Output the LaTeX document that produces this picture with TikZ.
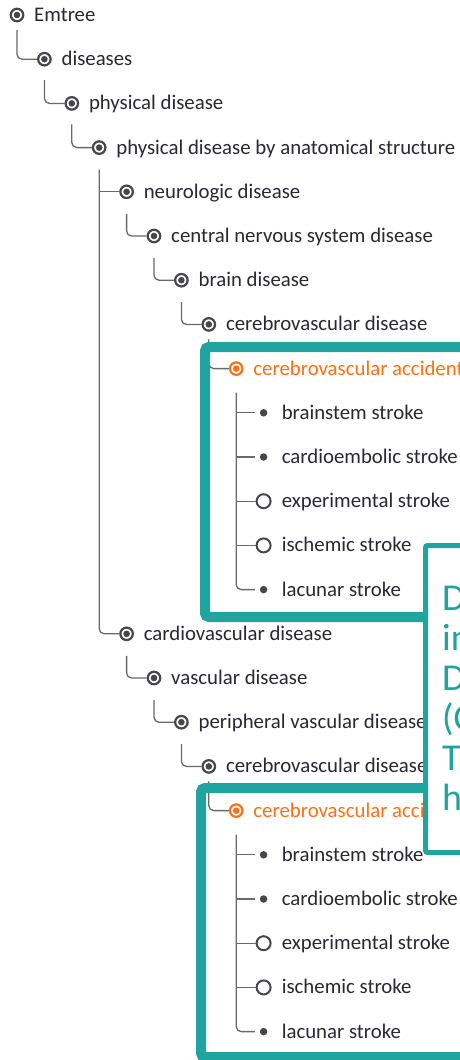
\documentclass[tikz,border=0pt]{standalone}
\usepackage{fontspec}
\setmainfont{Carlito}
\usetikzlibrary{positioning}
\definecolor{treegray}{RGB}{70,70,75}
\definecolor{linegray}{RGB}{105,105,105}
\definecolor{textdark}{RGB}{40,40,50}
\definecolor{hitorange}{RGB}{255,112,20}
\definecolor{boxteal}{RGB}{32,164,160}
\tikzset{
  bullseye/.style={circle, draw=#1, fill=white, line width=2.2pt, minimum size=12.5pt,
    inner sep=0pt, path picture={\fill[#1] (path picture bounding box.center) circle (3.3pt);}},
  bullseye/.default=treegray,
  hollow/.style={circle, draw=treegray, fill=white, line width=2pt, minimum size=14pt, inner sep=0pt},
  leaf/.style={circle, fill=treegray, minimum size=7.5pt, inner sep=0pt, outer sep=5pt},
  lbl/.style={inner sep=0pt, text=textdark, font=\fontsize{20.8}{24}\selectfont},
  conn/.style={draw=linegray, line width=1.3pt, rounded corners=5pt},
  hibox/.style={draw=boxteal, line width=10pt, rounded corners=4pt},
}
\begin{document}
\begin{tikzpicture}[x=1pt, y=-1pt]
  \path[use as bounding box, clip] (0,0) rectangle (460,1060);
  % upper branch
  \node[bullseye] (emtree) at (17,15) {};
  \node[bullseye] (dis) at (44.4,59.2) {};
  \node[bullseye] (phys) at (71.8,103.4) {};
  \node[bullseye] (anat) at (99.2,147.6) {};
  \node[bullseye] (neuro) at (126.6,191.8) {};
  \node[bullseye] (cns) at (154,236) {};
  \node[bullseye] (brain) at (181.4,280.2) {};
  \node[bullseye] (cvd) at (208.8,324.4) {};
  \node[bullseye=hitorange] (cva) at (236.2,368.6) {};
  \node[leaf] (bs) at (263.6,412.8) {};
  \node[leaf] (ce) at (263.6,457) {};
  \node[hollow] (ex) at (263.6,501.2) {};
  \node[hollow] (is) at (263.6,545.4) {};
  \node[leaf] (lac) at (263.6,589.6) {};
  % lower branch
  \node[bullseye] (cardio) at (126.6,633.8) {};
  \node[bullseye] (vasc) at (154,678) {};
  \node[bullseye] (periph) at (181.4,722.2) {};
  \node[bullseye] (cvdb) at (208.8,766.4) {};
  \node[bullseye=hitorange] (cvab) at (236.2,810.6) {};
  \node[leaf] (bsb) at (263.6,854.8) {};
  \node[leaf] (ceb) at (263.6,899) {};
  \node[hollow] (exb) at (263.6,943.2) {};
  \node[hollow] (isb) at (263.6,987.4) {};
  \node[leaf] (lacb) at (263.6,1031.6) {};

  % labels
  \node[lbl, right=17pt of emtree.center, anchor=base west, yshift=-6.5pt] (emtree-t) {Emtree};
  \node[lbl, right=17pt of dis.center, anchor=base west, yshift=-6.5pt] (dis-t) {diseases};
  \node[lbl, right=17pt of phys.center, anchor=base west, yshift=-6.5pt] (phys-t) {physical disease};
  \node[lbl, right=17pt of anat.center, anchor=base west, yshift=-6.5pt] (anat-t) {physical disease by anatomical structure};
  \node[lbl, right=17pt of neuro.center, anchor=base west, yshift=-6.5pt] (neuro-t) {neurologic disease};
  \node[lbl, right=17pt of cns.center, anchor=base west, yshift=-6.5pt] (cns-t) {central nervous system disease};
  \node[lbl, right=17pt of brain.center, anchor=base west, yshift=-6.5pt] (brain-t) {brain disease};
  \node[lbl, right=17pt of cvd.center, anchor=base west, yshift=-6.5pt] (cvd-t) {cerebrovascular disease};
  \node[lbl, text=hitorange, right=17pt of cva.center, anchor=base west, yshift=-6.5pt] (cva-t) {cerebrovascular accident};
  \node[lbl, right=18pt of bs.center, anchor=base west, yshift=-6.5pt] (bs-t) {brainstem stroke};
  \node[lbl, right=18pt of ce.center, anchor=base west, yshift=-6.5pt] (ce-t) {cardioembolic stroke};
  \node[lbl, right=18pt of ex.center, anchor=base west, yshift=-6.5pt] (ex-t) {experimental stroke};
  \node[lbl, right=18pt of is.center, anchor=base west, yshift=-6.5pt] (is-t) {ischemic stroke};
  \node[lbl, right=18pt of lac.center, anchor=base west, yshift=-6.5pt] (lac-t) {lacunar stroke};
  \node[lbl, right=17pt of cardio.center, anchor=base west, yshift=-6.5pt] (cardio-t) {cardiovascular disease};
  \node[lbl, right=17pt of vasc.center, anchor=base west, yshift=-6.5pt] (vasc-t) {vascular disease};
  \node[lbl, right=17pt of periph.center, anchor=base west, yshift=-6.5pt] (periph-t) {peripheral vascular disease};
  \node[lbl, right=17pt of cvdb.center, anchor=base west, yshift=-6.5pt] (cvdb-t) {cerebrovascular disease};
  \node[lbl, text=hitorange, right=17pt of cvab.center, anchor=base west, yshift=-6.5pt] (cvab-t) {cerebrovascular accident};
  \node[lbl, right=18pt of bsb.center, anchor=base west, yshift=-6.5pt] (bsb-t) {brainstem stroke};
  \node[lbl, right=18pt of ceb.center, anchor=base west, yshift=-6.5pt] (ceb-t) {cardioembolic stroke};
  \node[lbl, right=18pt of exb.center, anchor=base west, yshift=-6.5pt] (exb-t) {experimental stroke};
  \node[lbl, right=18pt of isb.center, anchor=base west, yshift=-6.5pt] (isb-t) {ischemic stroke};
  \node[lbl, right=18pt of lacb.center, anchor=base west, yshift=-6.5pt] (lacb-t) {lacunar stroke};

  % connectors
  \draw[conn] ([yshift=-15pt]emtree.center) |- (dis.west);
  \draw[conn] ([yshift=-21pt]dis.center) |- (phys.west);
  \draw[conn] ([yshift=-21pt]phys.center) |- (anat.west);
  \draw[conn] ([yshift=-22pt]anat.center) |- (cardio.west);
  \draw[conn] (anat.center |- neuro.west) -- (neuro.west);
  \draw[conn] ([yshift=-22pt]neuro.center) |- (cns.west);
  \draw[conn] ([yshift=-22pt]cns.center) |- (brain.west);
  \draw[conn] ([yshift=-22pt]brain.center) |- (cvd.west);
  \draw[conn] ([yshift=-15pt]cvd.center) |- (cva.west);
  \draw[conn] ([yshift=-24pt]cva.center) |- (lac.west);
  \foreach \c in {bs,ce,ex,is}
    \draw[conn] (cva.center |- \c.west) -- (\c.west);
  \draw[conn] ([yshift=-22pt]cardio.center) |- (vasc.west);
  \draw[conn] ([yshift=-22pt]vasc.center) |- (periph.west);
  \draw[conn] ([yshift=-22pt]periph.center) |- (cvdb.west);
  \draw[conn] ([yshift=-15pt]cvdb.center) |- (cvab.west);
  \draw[conn] ([yshift=-24pt]cvab.center) |- (lacb.west);
  \foreach \c in {bsb,ceb,exb,isb}
    \draw[conn] (cvab.center |- \c.west) -- (\c.west);

  % highlight boxes
  \draw[hibox] (500,347) -- (205,347) -- (205,617) -- (500,617);
  \draw[hibox] (500,788) -- (201,788) -- (201,1057) -- (500,1057);

  % callout
  \filldraw[draw=boxteal, fill=white, line width=5pt, rounded corners=2pt]
    (500,545.5) -- (425.5,545.5) -- (425.5,852.5) -- (500,852.5) -- cycle;
  \node[anchor=north west, align=left, inner sep=0pt, text=boxteal,
    font=\fontsize{38}{40}\selectfont] (note) at (442,585.5) {D\\in\\D\\(C\\T\\h};
\end{tikzpicture}
\end{document}
